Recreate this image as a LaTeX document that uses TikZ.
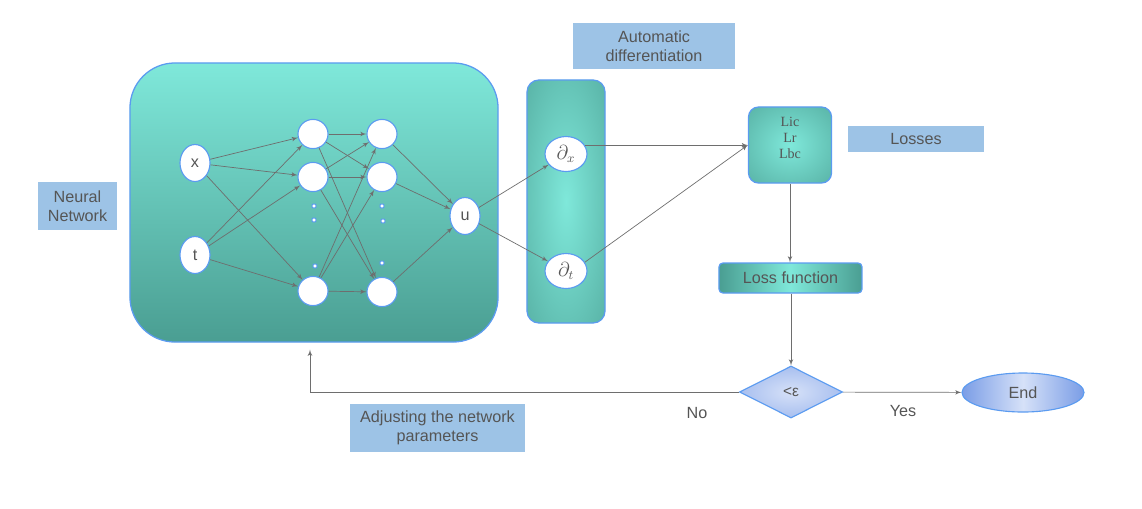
\documentclass[tikz,border=0pt]{standalone}
\usepackage{fontspec}
\setmainfont{Liberation Sans}
\newfontfamily\termfont{Liberation Serif}
\usepackage{xcolor}
\usetikzlibrary{arrows,shapes.geometric}
\definecolor{tealL}{RGB}{127,232,218}
\definecolor{tealD}{RGB}{74,158,146}
\definecolor{rim}{RGB}{91,155,240}
\definecolor{tag}{RGB}{157,195,230}
\definecolor{ink}{RGB}{85,85,85}
\definecolor{wire}{RGB}{110,110,110}
\definecolor{blueL}{RGB}{214,225,248}
\definecolor{blueD}{RGB}{122,157,230}
\pgfdeclareradialshading{tealglow}{\pgfpoint{0bp}{0bp}}{color(0bp)=(tealL); color(50bp)=(tealD); color(75bp)=(tealD)}
\pgfdeclareradialshading{blueglow}{\pgfpoint{0bp}{0bp}}{color(0bp)=(blueL); color(50bp)=(blueD); color(75bp)=(blueD)}
\begin{document}
\begin{tikzpicture}[x=0.025cm,y=-0.025cm,>=latex',
    txt/.style={text=ink,font=\fontsize{11.5}{13.5}\selectfont},
    neuron/.style={ellipse,draw=rim,line width=0.8pt,fill=white,inner sep=0pt,
      minimum width=0.75cm,minimum height=0.73cm,txt},
    io/.style={neuron,minimum height=0.925cm},
    deriv/.style={neuron,minimum width=1.05cm,minimum height=0.875cm,font=\fontsize{13.5}{15}\selectfont},
    blip/.style={rectangle,rounded corners=0.6pt,draw=rim,fill=white,line width=0.7pt,inner sep=0pt,minimum size=2.8pt},
    wire/.style={draw=wire,line width=0.5pt,->},
    tagbox/.style={fill=tag,align=center,inner sep=0pt,txt},
    tealbox/.style={draw=rim,line width=0.9pt,inner sep=0pt}]
  \useasboundingbox (0,0) rectangle (1142,508);
  \draw (314,202.5) node[tealbox,rounded corners=1.125cm,top color=tealL,bottom color=tealD,
    minimum width=9.2cm,minimum height=6.975cm] (nn) {};
  \draw (566,201.5) node[tealbox,rounded corners=0.3cm,shade,shading=tealglow,
    minimum width=1.95cm,minimum height=6.075cm] (ad) {};
  \draw (790,145) node[tealbox,rounded corners=0.25cm,shade,shading=tealglow,
    minimum width=2.075cm,minimum height=1.9cm] (lbox) {};
  \draw (790,138) node[text=ink,align=center,font=\termfont\fontsize{10}{11.3}\selectfont] (terms) {Lic\\Lr\\Lbc};
  \draw (790.5,278) node[tealbox,rounded corners=0.1cm,left color=tealD,right color=tealD,middle color=tealL,
    minimum width=3.575cm,minimum height=0.75cm,txt] (lfun) {Loss function};
  \draw (791,392) node[diamond,draw=rim,line width=0.8pt,shade,shading=blueglow,aspect=2,inner sep=0pt,
    minimum width=2.575cm,minimum height=1.3cm,text=ink,font=\fontsize{11}{13}\selectfont] (dia) {<ε};
  \draw (1023,392.5) node[ellipse,draw=rim,line width=0.8pt,left color=blueD,right color=blueD,middle color=blueL,
    inner sep=0pt,minimum width=3.05cm,minimum height=0.975cm,txt] (end) {End};

  \draw (77.5,206) node[tagbox,minimum width=1.975cm,minimum height=1.2cm] (lnn) {Neural\\Network};
  \draw (654,46) node[tagbox,minimum width=4.05cm,minimum height=1.15cm] (lad) {Automatic\\differentiation};
  \draw (916,139) node[tagbox,minimum width=3.4cm,minimum height=0.65cm] (lls) {Losses};
  \draw (437.5,428) node[tagbox,minimum width=4.375cm,minimum height=1.2cm] (ladj) {Adjusting the network\\parameters};
  \draw (697,413) node[txt] (no) {No};
  \draw (903,411) node[txt] (yes) {Yes};

  \draw (195,163) node[io] (x) {x};
  \draw (195,255) node[io] (t) {t};
  \draw (313,134) node[neuron] (h1a) {};
  \draw (313,177) node[neuron] (h1b) {};
  \draw (313,291) node[neuron] (h1c) {};
  \draw (382,134) node[neuron] (h2a) {};
  \draw (382,177) node[neuron] (h2b) {};
  \draw (382,292) node[neuron] (h2c) {};
  \draw (465,216) node[io] (u) {u};
  \draw (566,154) node[deriv] (dx) {$\partial_x$};
  \draw (566,271) node[deriv] (dt) {$\partial_t$};

  \draw (314,206) node[blip] (d1) {};
  \draw (314,220) node[blip] (d2) {};
  \draw (315,266) node[blip] (d3) {};
  \draw (382,206) node[blip] (d4) {};
  \draw (383,221) node[blip] (d5) {};
  \draw (382,263) node[blip] (d6) {};

  \draw[wire] (x) -- (h1a);
  \draw[wire] (x) -- (h1b);
  \draw[wire] (x) -- (h1c);
  \draw[wire] (t) -- (h1a);
  \draw[wire] (t) -- (h1b);
  \draw[wire] (t) -- (h1c);
  \draw[wire] (h1a) -- (h2a);
  \draw[wire] (h1a) -- (h2b);
  \draw[wire] (h1a) -- (h2c);
  \draw[wire] (h1b) -- (h2a);
  \draw[wire] (h1b) -- (h2b);
  \draw[wire] (h1b) -- (h2c);
  \draw[wire] (h1c) -- (h2a);
  \draw[wire] (h1c) -- (h2b);
  \draw[wire] (h1c) -- (h2c);
  \draw[wire] (h2a) -- (u);
  \draw[wire] (h2b) -- (u);
  \draw[wire] (h2c) -- (u);
  \draw[wire] (u) -- (dx);
  \draw[wire] (u) -- (dt);
  \draw[wire] (dx.25) -- (lbox.west |- dx.25);
  \draw[wire] (dt.25) -- (lbox.west);
  \draw[wire] (lbox.south) -- (lbox.south |- lfun.north);
  \draw[wire] (lfun.south -| dia.north) -- (dia.north);
  \draw[wire] (dia) -- (end);
  \coordinate (back) at (310,392);
  \draw[wire,shorten >=5pt] (dia.west) -- (back) -- (back |- nn.south);
\end{tikzpicture}
\end{document}
